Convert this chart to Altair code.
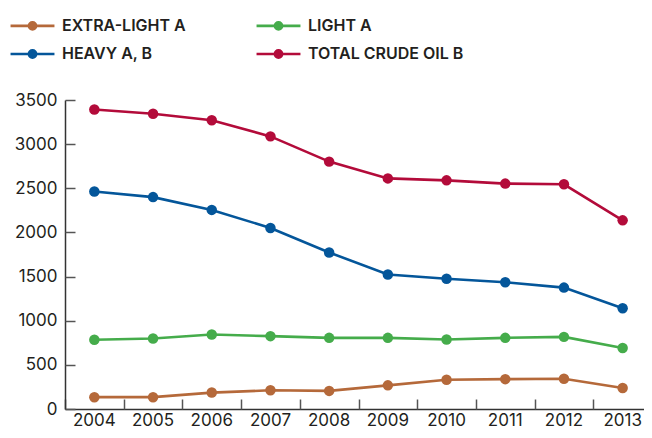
import altair as alt
import pandas as pd

years = ["2004", "2005", "2006", "2007", "2008", "2009", "2010", "2011", "2012", "2013"]
extra_light = [134, 134, 186, 212, 205, 268, 331, 338, 342, 238]
light = [784, 799, 844, 825, 806, 806, 788, 806, 817, 691]
heavy = [2464, 2400, 2255, 2051, 1773, 1524, 1475, 1435, 1375, 1141]
total = [3392, 3344, 3270, 3088, 2802, 2612, 2590, 2553, 2545, 2137]

series_names = ["EXTRA-LIGHT A", "LIGHT A", "HEAVY A, B", "TOTAL CRUDE OIL B"]
series_values = [extra_light, light, heavy, total]
colors = ["#B5693A", "#45AC4B", "#04569A", "#B30B3A"]
y_ticks = [0, 500, 1000, 1500, 2000, 2500, 3000, 3500]

rows = []
for name, vals in zip(series_names, series_values):
    for yr, v in zip(years, vals):
        rows.append({"year": yr, "value": v, "series": name})
df = pd.DataFrame(rows)

legend = alt.Legend(
    title=None,
    orient="none",
    legendX=-46,
    legendY=-88,
    direction="horizontal",
    columns=2,
    symbolType="M-1.83,0H1.83M0.3,0A0.3,0.3,0,1,1,-0.3,0A0.3,0.3,0,1,1,0.3,0Z",
    symbolSize=576,
    symbolStrokeWidth=2.6,
    symbolOpacity=1,
    labelFont="Inter",
    labelFontSize=16,
    labelFontWeight=600,
    labelColor="#231F20",
    labelOffset=16,
    labelLimit=400,
    columnPadding=65,
    rowPadding=5.5,
    padding=0,
)

cscale = alt.Scale(domain=series_names, range=colors)

x_scale = alt.Scale(type="band", paddingInner=0, paddingOuter=0, range=[0, 587])
y_scale = alt.Scale(domain=[0, 3500], nice=False)

x_main = alt.X(
    "year:O", bandPosition=0.5, scale=x_scale,
    axis=alt.Axis(
        title=None, orient="bottom", labelAngle=0, ticks=False,
        domainColor="#333333", domainWidth=1.5,
        labelPadding=16.5, labelBaseline="alphabetic", labelFont="Inter",
        labelFontSize=17, labelColor="#231F20", grid=False,
    ),
)
x_ticks = alt.X(
    "year:O", bandPosition=0.5, scale=x_scale,
    axis=alt.Axis(
        title=None, orient="bottom", labels=False, domain=False, ticks=True,
        tickBand="extent", tickSize=10, offset=-10, tickColor="#555555",
        tickWidth=1.5, grid=False,
    ),
)
y_main = alt.Y(
    "value:Q", scale=y_scale,
    axis=alt.Axis(
        title=None, orient="left", values=y_ticks, format="d", ticks=False,
        domainColor="#333333", domainWidth=1.5,
        labelPadding=8, labelFont="Inter", labelFontSize=17,
        labelColor="#231F20", grid=False,
    ),
)
y_ticks_axis = alt.Y(
    "value:Q", scale=y_scale,
    axis=alt.Axis(
        title=None, orient="left", values=y_ticks, labels=False, domain=False,
        ticks=True, tickSize=10, offset=-10, tickColor="#555555",
        tickWidth=1.5, grid=False,
    ),
)

lines = alt.Chart(df).mark_line(strokeWidth=2.6).encode(
    x=x_main,
    y=y_main,
    stroke=alt.Stroke("series:N", scale=cscale, sort=series_names, legend=legend),
)
points = alt.Chart(df).mark_circle(size=110, opacity=1).encode(
    x=x_ticks,
    y=y_ticks_axis,
    fill=alt.Fill("series:N", scale=cscale, sort=series_names, legend=legend),
)

chart = (
    alt.layer(lines, points)
    .resolve_axis(x="independent", y="independent")
    .properties(
        width=579,
        height=309,
        autosize=alt.AutoSizeParams(type="none"),
        padding={"left": 57, "top": 92, "right": 0, "bottom": 21},
        background="white",
    )
    .configure_view(stroke=None)
)

chart.save("out.html", embed_options={"renderer": "svg", "actions": False})
